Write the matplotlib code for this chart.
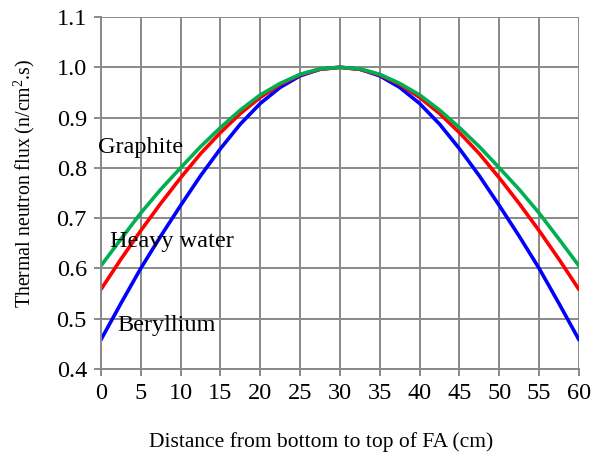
import numpy as np
import matplotlib
matplotlib.use('Agg')
import matplotlib.pyplot as plt

plt.rcParams['font.family'] = ['Liberation Serif', 'DejaVu Serif']
plt.rcParams['mathtext.fontset'] = 'custom'
plt.rcParams['mathtext.rm'] = 'Liberation Serif'
plt.rcParams['mathtext.default'] = 'rm'

# distance along fuel assembly (cm)
dist = [0, 2.5, 5, 7.5, 10, 12.5, 15, 17.5, 20, 22.5, 25, 27.5, 30,
        32.5, 35, 37.5, 40, 42.5, 45, 47.5, 50, 52.5, 55, 57.5, 60]

# normalised thermal neutron flux
beryllium = [0.458, 0.530, 0.600, 0.664, 0.725, 0.784, 0.838, 0.887, 0.928, 0.960, 0.983, 0.996, 1.000,
             0.996, 0.983, 0.960, 0.928, 0.887, 0.838, 0.784, 0.725, 0.664, 0.600, 0.530, 0.458]
heavy_water = [0.558, 0.618, 0.675, 0.729, 0.780, 0.828, 0.870, 0.908, 0.940, 0.966, 0.985, 0.996, 1.000,
               0.996, 0.985, 0.966, 0.940, 0.908, 0.870, 0.828, 0.780, 0.729, 0.675, 0.618, 0.558]
graphite = [0.605, 0.658, 0.710, 0.757, 0.800, 0.842, 0.880, 0.915, 0.945, 0.968, 0.986, 0.997, 1.000,
            0.997, 0.986, 0.968, 0.945, 0.915, 0.880, 0.842, 0.800, 0.757, 0.710, 0.658, 0.605]

fig = plt.figure(figsize=(6.04, 4.54), dpi=100)
fig.patch.set_facecolor('white')
ax1 = fig.add_subplot(1, 1, 1)

gc = '#898989'
ax1.plot(dist, beryllium, color='#0000FF', linewidth=2.6, solid_capstyle='round')
ax1.plot(dist, heavy_water, color='#FF0000', linewidth=2.6, solid_capstyle='round')
ax1.plot(dist, graphite, color='#00B050', linewidth=2.6, solid_capstyle='round')

ax1.text(-0.4, 0.84, 'Graphite', fontsize=17.5, va='center', ha='left')
ax1.text(1.1, 0.654, 'Heavy water', fontsize=17.5, va='center', ha='left')
ax1.text(2.1, 0.486, 'Beryllium', fontsize=17.5, va='center', ha='left')

ax1.set_xlim(0, 60)
ax1.set_ylim(0.4, 1.1)
ax1.set_xticks(np.arange(0, 61, 5))
ax1.set_yticks(np.arange(0.4, 1.101, 0.1))
ax1.set_yticklabels(['%.1f' % v for v in np.arange(0.4, 1.101, 0.1)])
ax1.grid(True, color=gc, linewidth=1.4)
ax1.set_axisbelow(True)
for s in ['top', 'right']:
    ax1.spines[s].set_visible(False)
for s in ['left', 'bottom']:
    ax1.spines[s].set_color(gc)
    ax1.spines[s].set_linewidth(1.4)
ax1.tick_params(direction='out', length=5, width=1.4, color=gc, labelsize=17.5, pad=5)

ax1.set_xlabel('Distance from bottom to top of FA (cm)', fontsize=15.5, labelpad=20)
ax1.xaxis.label.set_x(0.46)
ax1.set_ylabel('Thermal neutron flux (n/cm$^{2}$.s)', fontsize=14.3, labelpad=14)
ax1.yaxis.label.set_y(0.528)

plt.subplots_adjust(top=0.9626, bottom=0.1872, left=0.167, right=0.9586)
plt.savefig('out.png', dpi=100)
